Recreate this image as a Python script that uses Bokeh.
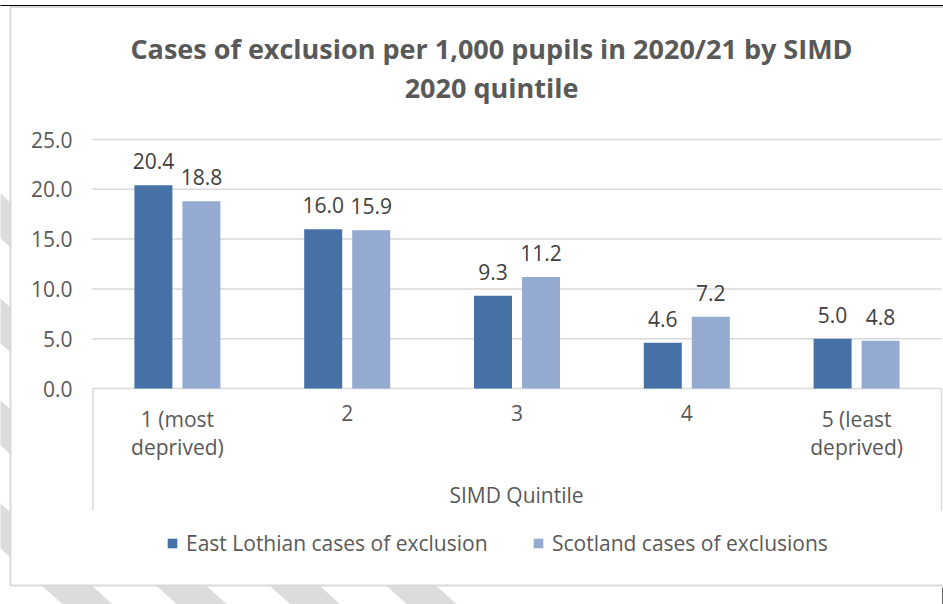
from bokeh.plotting import figure
from bokeh.models import Range1d, Legend, LegendItem, ColumnDataSource
from bokeh.core.properties import value
from bokeh.embed import file_html
from bokeh.resources import INLINE

# ---------------- data ----------------
categories = ["1 (most\ndeprived)", "2", "3", "4", "5 (least\ndeprived)"]
east_lothian = [20.4, 16.0, 9.3, 4.6, 5.0]
scotland = [18.8, 15.9, 11.2, 7.2, 4.8]
y_ticks = [0, 5, 10, 15, 20, 25]
series_names = ["East Lothian cases of exclusion", "Scotland cases of exclusions"]
title_lines = ["Cases of exclusion per 1,000 pupils in 2020/21 by SIMD", "2020 quintile"]
x_title = "SIMD Quintile"

# ---------------- layout (pixels) ----------------
W, H = 943, 604
PL, PR, PT, PB = 92, 941, 139, 510     # plot area + category box
Y0 = 388                               # pixel row of value 0
YMAX = y_ticks[-1]
ppu = (Y0 - PT) / YMAX
ppx = (PR - PL) / len(categories)


def dx(px):
    return (px - PL) / ppx - 0.5


def dy(py):
    return (Y0 - py) / ppu


FONT = "Open Sans"
TXT = "#595959"
LAB = "#404040"
C1, C2 = "#4571a6", "#95aad1"
GRID = "#d9d9d9"
STRIPE = "#dcdcdc"

p = figure(width=W, height=H, output_backend="svg", toolbar_location=None,
           x_range=Range1d(dx(0), dx(W)), y_range=Range1d(dy(H), dy(0)),
           x_axis_location=None, y_axis_location=None,
           min_border=0, min_border_left=0, min_border_right=0,
           min_border_top=0, min_border_bottom=0)
p.outline_line_color = None
p.grid.visible = False
p.background_fill_color = "white"
p.border_fill_color = "white"

# background diagonal stripes (page behind the chart)
slope = 0.9
band = 45
xs, ys = [], []
for top in (193, 298, 400, 503, 606):
    x_far = 1000
    xs.append([dx(-5), dx(x_far), dx(x_far), dx(-5)])
    ys.append([dy(top - 5 * slope), dy(top + x_far * slope),
               dy(top + band + x_far * slope), dy(top + band - 5 * slope)])
p.patches(xs=xs, ys=ys, fill_color=STRIPE, line_color=None)

# chart box
p.quad(left=[dx(10)], right=[dx(W + 10)], top=[dy(6.5)], bottom=[dy(585)],
       fill_color="white", line_color=GRID, line_width=2)
# screenshot edge lines
p.segment(x0=[dx(-2)], x1=[dx(W + 2)], y0=[dy(5)], y1=[dy(5)], line_color="black", line_width=1.2)
p.segment(x0=[dx(942.5)], x1=[dx(942.5)], y0=[dy(587)], y1=[dy(H + 2)], line_color="black", line_width=1.2)

# gridlines and value axis labels
p.segment(x0=[dx(PL)] * len(y_ticks), x1=[dx(PR)] * len(y_ticks), y0=y_ticks, y1=y_ticks,
          line_color=GRID, line_width=1.5)
p.text(x=[dx(72)] * len(y_ticks), y=y_ticks, text=["%.1f" % t for t in y_ticks],
       text_align="right", text_baseline="middle", text_font=value(FONT),
       text_font_size="21px", text_color=TXT)

# category box verticals
p.segment(x0=[dx(PL + 0.5), dx(PR)], x1=[dx(PL + 0.5), dx(PR)], y0=[0, 0], y1=[dy(PB)] * 2,
          line_color=GRID, line_width=1.5)

idx = list(range(len(categories)))
off = 24 / ppx
bw = 38 / ppx
src1 = ColumnDataSource(dict(x=[i - off for i in idx], top=east_lothian,
                             lab=["%.1f" % v for v in east_lothian]))
src2 = ColumnDataSource(dict(x=[i + off for i in idx], top=scotland,
                             lab=["%.1f" % v for v in scotland]))
r1 = p.vbar(x="x", top="top", width=bw, bottom=0, source=src1, fill_color=C1, line_color=None)
r2 = p.vbar(x="x", top="top", width=bw, bottom=0, source=src2, fill_color=C2, line_color=None)

for s in (src1, src2):
    p.text(x="x", y="top", text="lab", source=s, text_align="center", text_baseline="alphabetic",
           y_offset=-24, text_font=value(FONT), text_font_size="21px", text_color=LAB)

p.text(x=idx, y=[dy(404)] * len(idx), text=categories, text_align="center", text_baseline="top",
       text_font=value(FONT), text_font_size="21px", text_color=TXT, text_line_height=1.02)
p.text(x=[dx(516)], y=[dy(494)], text=[x_title], text_align="center", text_baseline="middle",
       text_font=value(FONT), text_font_size="21px", text_color=TXT)

# title
p.text(x=[dx(491)] * 2, y=[dy(48), dy(87)], text=title_lines, text_align="center",
       text_baseline="middle", text_font=value(FONT), text_font_style="bold",
       text_font_size="27px", text_color=TXT)

# legends
for r, name, gx in ((r1, series_names[0], 166), (r2, series_names[1], 532)):
    lg = Legend(items=[LegendItem(label=name, renderers=[r])], location=(gx, H - 557),
                padding=0, margin=0, spacing=0, glyph_width=12, glyph_height=12,
                label_standoff=8, label_height=20, label_text_font=FONT,
                label_text_font_size="21px", label_text_color=TXT,
                border_line_color=None, background_fill_color=None)
    p.add_layout(lg)

open("out.html", "w").write(file_html(p, INLINE))
